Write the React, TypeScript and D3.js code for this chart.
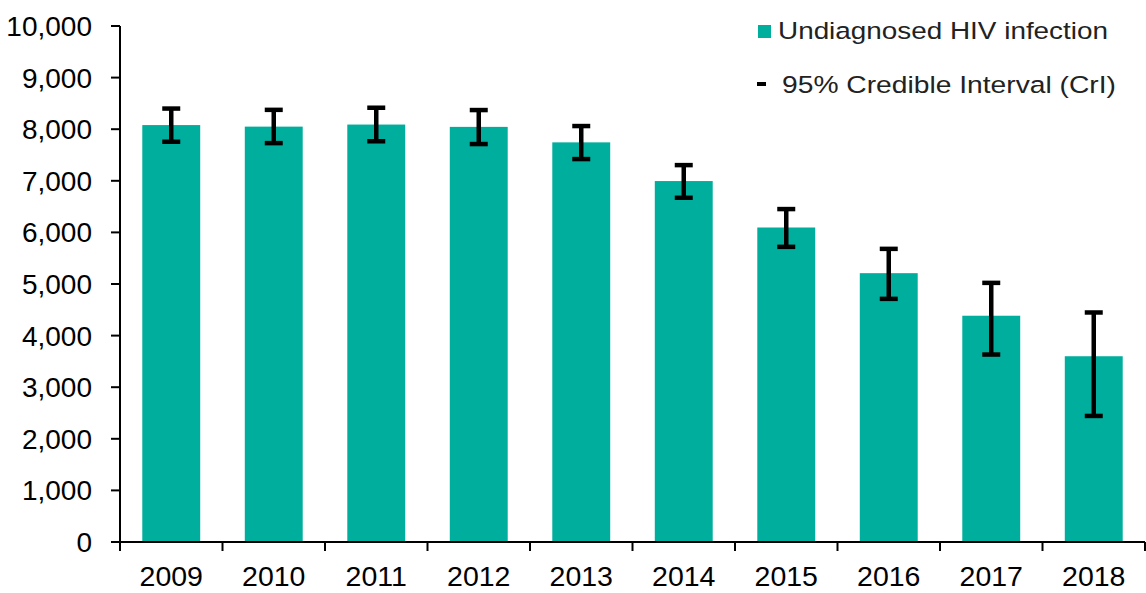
import React from "react";
import * as d3 from "d3";

const years = ["2009", "2010", "2011", "2012", "2013", "2014", "2015", "2016", "2017", "2018"];
const undiagnosed = [8080, 8050, 8090, 8045, 7745, 6995, 6095, 5210, 4385, 3600];
const lower = [7757, 7730, 7766, 7712, 7421, 6671, 5720, 4712, 3633, 2443];
const upper = [8400, 8375, 8416, 8371, 8061, 7304, 6452, 5681, 5022, 4448];
const yTicks = [0, 1000, 2000, 3000, 4000, 5000, 6000, 7000, 8000, 9000, 10000];
const legendLabels = ["Undiagnosed HIV infection", "95% Credible Interval (CrI)"];

const W = 1146;
const H = 593;
const left = 120;
const right = 1145;
const top = 26;
const bottom = 542;
const color = "#00ae9d";
const font = "'Liberation Sans', Arial, sans-serif";

export default function App() {
  const x = d3.scaleBand<string>().domain(years).range([left, right]).paddingInner(0.435).paddingOuter(0.2175);
  const xb = d3.scaleBand<string>().domain(years).range([left, right]);
  const y = d3.scaleLinear().domain([0, 10000]).range([bottom, top]);
  const fmt = d3.format(",");
  const capW = 18;
  const boundaries = years.map((yr) => xb(yr) as number).concat([right]);

  return (
    <svg width={W} height={H} style={{ position: "absolute", left: 0, top: 0 }} fontFamily={font}>
      {/* bars */}
      {years.map((yr, i) => (
        <rect key={yr} x={x(yr)} y={y(undiagnosed[i])} width={x.bandwidth()} height={y(0) - y(undiagnosed[i])} fill={color} />
      ))}
      {/* error bars */}
      {years.map((yr, i) => {
        const cx = (x(yr) as number) + x.bandwidth() / 2;
        return (
          <g key={"e" + yr} stroke="#000" strokeWidth={4.5}>
            <line x1={cx} x2={cx} y1={y(upper[i])} y2={y(lower[i])} />
            <line x1={cx - capW / 2} x2={cx + capW / 2} y1={y(upper[i])} y2={y(upper[i])} />
            <line x1={cx - capW / 2} x2={cx + capW / 2} y1={y(lower[i])} y2={y(lower[i])} />
          </g>
        );
      })}
      {/* y axis */}
      <line x1={left} x2={left} y1={top} y2={bottom} stroke="#000" strokeWidth={2} />
      {yTicks.map((t) => (
        <g key={t}>
          <line x1={left - 9} x2={left} y1={y(t)} y2={y(t)} stroke="#000" strokeWidth={2} />
          <text x={92} y={y(t)} dy="0.36em" textAnchor="end" fontSize={28} fill="#000">
            {fmt(t)}
          </text>
        </g>
      ))}
      {/* x axis */}
      <line x1={left - 9} x2={right} y1={bottom} y2={bottom} stroke="#000" strokeWidth={2} />
      {boundaries.map((b, i) => (
        <line key={"b" + i} x1={b} x2={b} y1={bottom} y2={bottom + 9} stroke="#000" strokeWidth={2} />
      ))}
      {years.map((yr) => (
        <text key={"l" + yr} x={(xb(yr) as number) + xb.bandwidth() / 2} y={586} textAnchor="middle" fontSize={28.5} fill="#000">
          {yr}
        </text>
      ))}
      {/* legend */}
      <rect x={758} y={25} width={13} height={13} fill={color} />
      <text x={778} y={39} fontSize={24.5} fill="#222" textLength={330} lengthAdjust="spacingAndGlyphs">{legendLabels[0]}</text>
      <line x1={757} x2={766} y1={84} y2={84} stroke="#000" strokeWidth={4} />
      <text x={782} y={93} fontSize={24.5} fill="#222" textLength={334} lengthAdjust="spacingAndGlyphs">{legendLabels[1]}</text>
    </svg>
  );
}
